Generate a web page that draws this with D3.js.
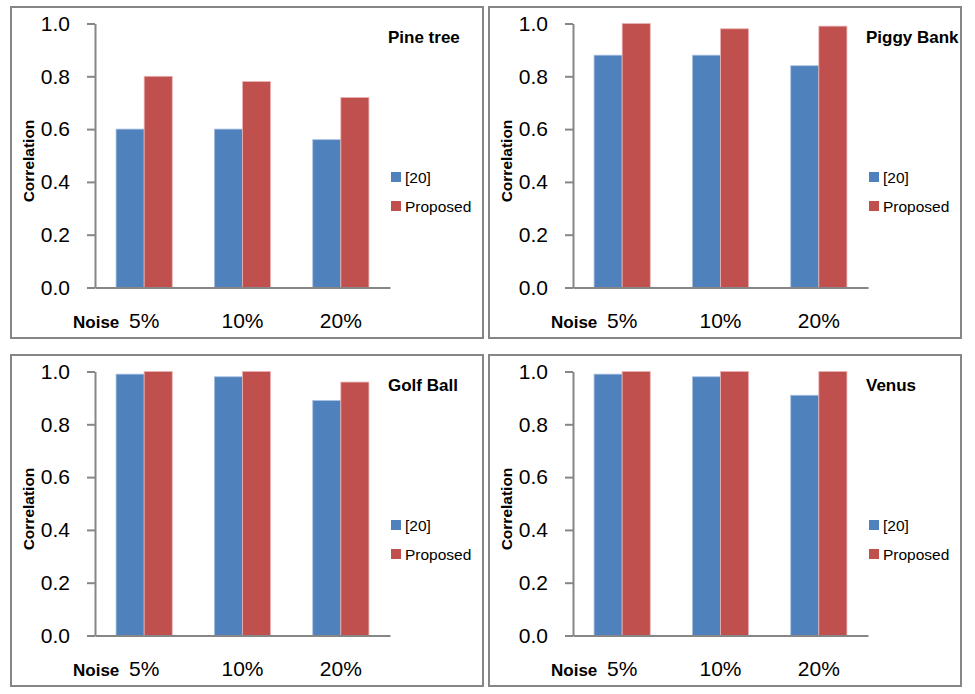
<!DOCTYPE html>
<html>
<head>
<meta charset="utf-8">
<script src="https://cdn.jsdelivr.net/npm/d3@7"></script>
<style>
  html, body { margin: 0; padding: 0; background: #fff; }
  svg { display: block; }
  text { font-family: "Liberation Sans", Arial, sans-serif; fill: #000; }
</style>
</head>
<body>
<svg id="chart" width="975" height="694"></svg>
<script>
// ---- data ----
const noiseLevels = ["5%", "10%", "20%"];
const seriesNames = ["[20]", "Proposed"];
const seriesColors = ["#4F81BD", "#C0504D"];
const seriesEdge = ["#A9C0E0", "#E8B4B3"];
const yTicks = [0.0, 0.2, 0.4, 0.6, 0.8, 1.0];
const chartTitles = ["Pine tree", "Piggy Bank", "Golf Ball", "Venus"];
const ref20 = [
  [0.60, 0.60, 0.56],
  [0.88, 0.88, 0.84],
  [0.99, 0.98, 0.89],
  [0.99, 0.98, 0.91]
];
const proposed = [
  [0.80, 0.78, 0.72],
  [1.00, 0.98, 0.99],
  [1.00, 1.00, 0.96],
  [1.00, 1.00, 1.00]
];

// ---- layout ----
const panelPos = [[11, 7], [489, 7], [11, 355], [489, 355]];
const panelW = 472, panelH = 331;
const plotLeft = 84, plotRight = 379, plotTop = 16.5, plotBottom = 280.5;

const svg = d3.select("#chart");

chartTitles.forEach((title, i) => {
  const [px, py] = panelPos[i];
  const g = svg.append("g").attr("transform", `translate(${px},${py})`);

  g.append("rect")
    .attr("x", 0).attr("y", 0)
    .attr("width", panelW).attr("height", panelH)
    .attr("fill", "#fff")
    .attr("stroke", "#868686").attr("stroke-width", 2);

  const x = d3.scaleBand().domain(noiseLevels)
    .range([plotLeft, plotRight]).paddingInner(0.4286).paddingOuter(0.2143);
  const x1 = d3.scaleBand().domain(seriesNames).range([0, x.bandwidth()]);
  const y = d3.scaleLinear().domain([0, 1]).range([plotBottom, plotTop]);

  const rows = noiseLevels.map((n, k) => ({
    noise: n,
    values: [ref20[i][k], proposed[i][k]]
  }));

  // bars
  const grp = g.append("g").selectAll("g").data(rows).join("g")
    .attr("transform", d => `translate(${x(d.noise)},0)`);
  grp.selectAll("rect")
    .data(d => d.values.map((v, s) => ({ v, s })))
    .join("rect")
    .attr("x", d => x1(seriesNames[d.s]))
    .attr("y", d => y(d.v))
    .attr("width", x1.bandwidth())
    .attr("height", d => y(0) - y(d.v))
    .attr("fill", d => seriesColors[d.s])
    .attr("stroke", d => seriesEdge[d.s])
    .attr("stroke-width", 0.8);

  // y axis
  const yAxis = g.append("g")
    .attr("transform", `translate(${plotLeft},0)`)
    .call(d3.axisLeft(y).tickValues(yTicks).tickFormat(d3.format(".1f"))
      .tickSize(8).tickSizeOuter(0).tickPadding(17));
  yAxis.selectAll("path, line").attr("stroke", "#868686").attr("stroke-width", 2);
  yAxis.selectAll("text")
    .style("font-family", '"Liberation Sans", Arial, sans-serif')
    .style("font-size", "21px").attr("fill", "#000");

  // x axis
  const xAxis = g.append("g")
    .attr("transform", `translate(0,${plotBottom})`)
    .call(d3.axisBottom(x).tickSize(0).tickSizeOuter(0));
  xAxis.select(".domain").attr("stroke", "#868686").attr("stroke-width", 2);
  xAxis.selectAll("text")
    .attr("y", 40).attr("dy", null)
    .style("font-family", '"Liberation Sans", Arial, sans-serif')
    .style("font-size", "21px").attr("fill", "#000");

  // "Noise" label
  g.append("text")
    .attr("x", 62).attr("y", plotBottom + 40)
    .style("font-size", "17px").style("font-weight", "bold")
    .text("Noise");

  // y axis title
  g.append("text")
    .attr("transform", `translate(23,${154}) rotate(-90)`)
    .attr("text-anchor", "middle")
    .style("font-size", "15.5px").style("font-weight", "bold")
    .text("Correlation");

  // chart title
  g.append("text")
    .attr("x", 377).attr("y", 36)
    .style("font-size", "17px").style("font-weight", "bold")
    .text(title);

  // legend
  const leg = g.append("g").selectAll("g").data(seriesNames).join("g")
    .attr("transform", (d, s) => `translate(380,${165 + s * 29})`);
  leg.append("rect")
    .attr("width", 10).attr("height", 10)
    .attr("fill", (d, s) => seriesColors[s]);
  leg.append("text")
    .attr("x", 14).attr("y", 11)
    .style("font-size", "15.5px")
    .text(d => d);
});
</script>
</body>
</html>
